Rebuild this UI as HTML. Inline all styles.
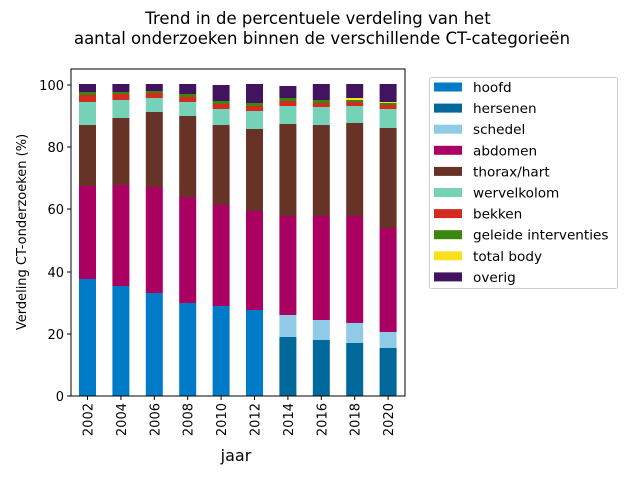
<!DOCTYPE html>
<html><head><meta charset="utf-8"><style>body{margin:0;background:#fff}svg{display:block}text{font-family:"DejaVu Sans","Liberation Sans",sans-serif;fill:#000}</style></head>
<body>
<svg width="640" height="480" xmlns="http://www.w3.org/2000/svg">
<text x="318" y="24" font-size="16.5" text-anchor="middle">Trend in de percentuele verdeling van het</text>
<text x="322" y="44" font-size="16.5" text-anchor="middle">aantal onderzoeken binnen de verschillende CT-categorieën</text>
<g id="bars"></g>
<rect x="71" y="69" width="334" height="327" fill="none" stroke="#000" stroke-width="1"/>
<g stroke="#000" stroke-width="1">
<line x1="67" x2="71" y1="396" y2="396"/><line x1="67" x2="71" y1="334" y2="334"/><line x1="67" x2="71" y1="272" y2="272"/><line x1="67" x2="71" y1="209" y2="209"/><line x1="67" x2="71" y1="147" y2="147"/><line x1="67" x2="71" y1="85" y2="85"/>
</g>
<g font-size="13" text-anchor="end">
<text x="64" y="401">0</text><text x="64" y="339">20</text><text x="64" y="277">40</text><text x="64" y="214">60</text><text x="64" y="152">80</text><text x="64" y="90">100</text>
</g>
<text transform="translate(26,232) rotate(-90)" font-size="13" text-anchor="middle">Verdeling CT-onderzoeken (%)</text>
<text x="236" y="461" font-size="16" text-anchor="middle">jaar</text>
<g id="xt" font-size="13"></g>
<rect x="429.5" y="77.5" width="188" height="211" rx="2" fill="#fff" stroke="#ccc"/>
<g id="leg" font-size="13.6"></g>
<script>
var C={h:"#007bc7",s:"#01689b",k:"#8fcae7",a:"#a90061",t:"#673327",w:"#76d2b6",b:"#d52b1e",g:"#39870c",y:"#f9e11e",o:"#42145f"};
var B=[
[["o",84,92],["g",92,95],["b",95,102],["w",102,125],["t",125,186],["a",186,279],["h",279,396]],
[["o",84,92],["g",92,94],["b",94,100],["w",100,118],["t",118,185],["a",185,286],["h",286,396]],
[["o",84,91],["g",91,93],["b",93,98],["w",98,112],["t",112,187],["a",187,293],["h",293,396]],
[["o",84,94],["g",94,97],["b",97,102],["w",102,116],["t",116,197],["a",197,303],["h",303,396]],
[["o",85,101],["g",101,104],["b",104,109],["w",109,125],["t",125,205],["a",205,306],["h",306,396]],
[["o",84,103],["g",103,106],["b",106,111],["w",111,129],["t",129,211],["a",211,310],["h",310,396]],
[["o",86,98],["g",98,101],["b",101,106],["w",106,124],["t",124,216],["a",216,315],["k",315,337],["s",337,396]],
[["o",84,100],["g",100,103],["b",103,107],["w",107,125],["t",125,216],["a",216,320],["k",320,340],["s",340,396]],
[["o",84,98],["y",98,100],["g",100,102],["b",102,106],["w",106,123],["t",123,216],["a",216,323],["k",323,343],["s",343,396]],
[["o",84,102],["y",102,103],["g",103,105],["b",105,109],["w",109,128],["t",128,228],["a",228,332],["k",332,348],["s",348,396]]];
var ns="http://www.w3.org/2000/svg",g=document.getElementById("bars"),xt=document.getElementById("xt");
B.forEach(function(bar,i){var x=79+i*33.4;bar.forEach(function(s){var r=document.createElementNS(ns,"rect");r.setAttribute("x",x);r.setAttribute("width",17);r.setAttribute("y",s[1]);r.setAttribute("height",s[2]-s[1]);r.setAttribute("fill",C[s[0]]);g.appendChild(r);});
var cx=x+8.5;var l=document.createElementNS(ns,"line");l.setAttribute("x1",cx);l.setAttribute("x2",cx);l.setAttribute("y1",396);l.setAttribute("y2",400);l.setAttribute("stroke","#000");xt.appendChild(l);
var t=document.createElementNS(ns,"text");t.setAttribute("transform","translate("+(cx+5)+",403) rotate(-90)");t.setAttribute("text-anchor","end");t.textContent=2002+2*i;xt.appendChild(t);});
var L=[["h","hoofd"],["s","hersenen"],["k","schedel"],["a","abdomen"],["t","thorax/hart"],["w","wervelkolom"],["b","bekken"],["g","geleide interventies"],["y","total body"],["o","overig"]],lg=document.getElementById("leg");
L.forEach(function(e,i){var y=87+i*21.1;var r=document.createElementNS(ns,"rect");r.setAttribute("x",434);r.setAttribute("y",y-4.5);r.setAttribute("width",28);r.setAttribute("height",9);r.setAttribute("fill",C[e[0]]);lg.appendChild(r);var t=document.createElementNS(ns,"text");t.setAttribute("x",473);t.setAttribute("y",y+5);t.textContent=e[1];lg.appendChild(t);});
</script>
</svg>
</body></html>
